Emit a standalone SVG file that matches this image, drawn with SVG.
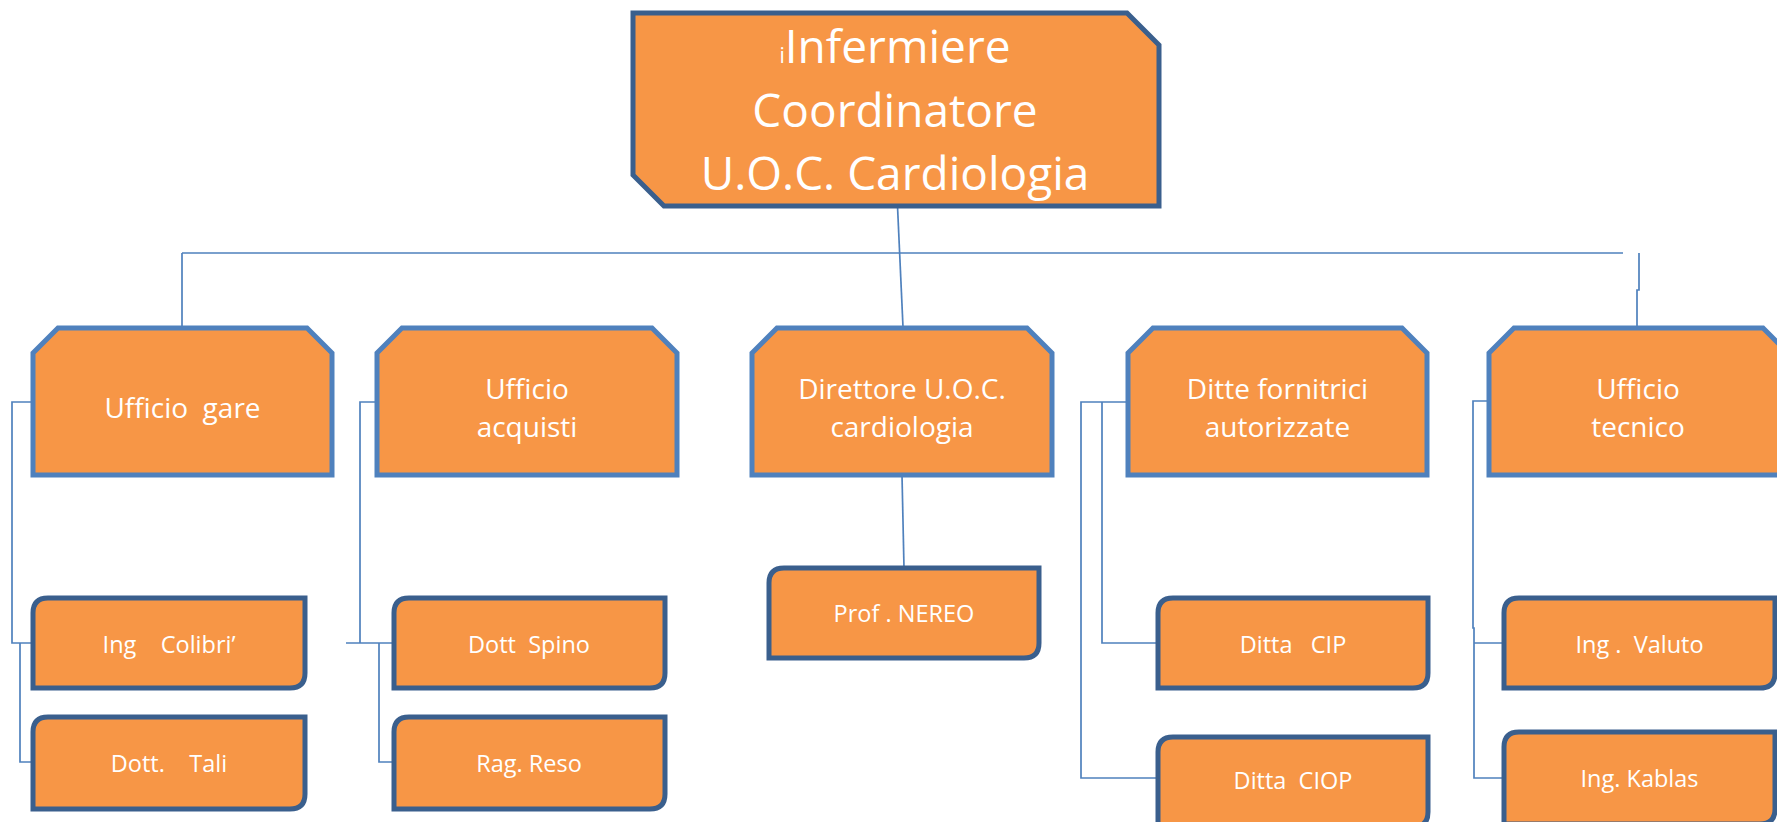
<svg xmlns="http://www.w3.org/2000/svg" width="1777" height="822" viewBox="0 0 1777 822">
<style>
.bg{fill:#ffffff}
.n1{fill:#F79646;stroke:#3A5F8D;stroke-width:5;stroke-linejoin:miter}
.n2{fill:#F79646;stroke:#4F81BD;stroke-width:5;stroke-linejoin:miter}
.n3{fill:#F79646;stroke:#3A5F8D;stroke-width:5}
.c{fill:none;stroke:#4F81BD;stroke-width:1.7}
text{font-family:"Open Sans","Noto Sans","Liberation Sans",sans-serif;fill:#ffffff;text-anchor:middle;white-space:pre}
.t1{font-size:46px}
.t2{font-size:28px}
.t3{font-size:23.5px}
</style>
<rect class="bg" x="0" y="0" width="1777" height="822"/>
<g id="connectors">
<path class="c" d="M897.5,206 L903,327"/>
<path class="c" d="M182,253 L1623,253 M182,253 L182,328"/>
<path class="c" d="M1639,253 L1639,290 L1637,290 L1637,327"/>
<path class="c" d="M902,475 L904,568"/>
<path class="c" d="M33,402 L12,402 L12,643 L33,643 M20,643 L20,762 L33,762"/>
<path class="c" d="M377,402 L360,402 L360,643 M346,643 L394,643 M379,643 L379,762 L394,762"/>
<path class="c" d="M1128,402 L1081,402 L1081,778 L1158,778 M1102,402 L1102,643 L1158,643"/>
<path class="c" d="M1489,401 L1473,401 L1473,628 L1474,628 L1474,778 L1504,778 M1474,643 L1504,643"/>
</g>
<g id="n-infermiere">
<path class="n1" d="M633,13 L1127,13 L1159,45 L1159,206 L664,206 L633,175 Z"/>
<text class="t1" x="895" y="63"><tspan font-size="21px">i</tspan>Infermiere</text>
<text class="t1" x="895" y="127">Coordinatore</text>
<text class="t1" x="895" y="190">U.O.C. Cardiologia</text>
</g>
<g id="n-gare">
<path class="n2" d="M58,328 L307,328 L332,353 L332,475 L33,475 L33,353 Z"/>
<text class="t2" x="182.5" y="418">Ufficio  gare</text>
</g>
<g id="n-acquisti">
<path class="n2" d="M402,328 L652,328 L677,353 L677,475 L377,475 L377,353 Z"/>
<text class="t2" x="527" y="399">Ufficio</text>
<text class="t2" x="527" y="437">acquisti</text>
</g>
<g id="n-direttore">
<path class="n2" d="M777,328 L1027,328 L1052,353 L1052,475 L752,475 L752,353 Z"/>
<text class="t2" x="902" y="399">Direttore U.O.C.</text>
<text class="t2" x="902" y="437">cardiologia</text>
</g>
<g id="n-ditte">
<path class="n2" d="M1153,328 L1402,328 L1427,353 L1427,475 L1128,475 L1128,353 Z"/>
<text class="t2" x="1277.5" y="399">Ditte fornitrici</text>
<text class="t2" x="1277.5" y="437">autorizzate</text>
</g>
<g id="n-tecnico">
<path class="n2" d="M1514,328 L1763,328 L1788,353 L1788,475 L1489,475 L1489,353 Z"/>
<text class="t2" x="1638" y="399">Ufficio</text>
<text class="t2" x="1638" y="437">tecnico</text>
</g>
<g id="n-colibri">
<path class="n3" d="M48,598 L305,598 L305,673 Q305,688 290,688 L33,688 L33,613 Q33,598 48,598 Z"/>
<text class="t3" x="169" y="653">Ing    Colibri’</text>
</g>
<g id="n-tali">
<path class="n3" d="M48,717 L305,717 L305,794 Q305,809 290,809 L33,809 L33,732 Q33,717 48,717 Z"/>
<text class="t3" x="169" y="772">Dott.    Tali</text>
</g>
<g id="n-spino">
<path class="n3" d="M409,598 L665,598 L665,673 Q665,688 650,688 L394,688 L394,613 Q394,598 409,598 Z"/>
<text class="t3" x="529" y="653">Dott  Spino</text>
</g>
<g id="n-reso">
<path class="n3" d="M409,717 L665,717 L665,794 Q665,809 650,809 L394,809 L394,732 Q394,717 409,717 Z"/>
<text class="t3" x="529" y="772">Rag. Reso</text>
</g>
<g id="n-nereo">
<path class="n3" d="M784,568 L1039,568 L1039,643 Q1039,658 1024,658 L769,658 L769,583 Q769,568 784,568 Z"/>
<text class="t3" x="904" y="622">Prof . NEREO</text>
</g>
<g id="n-cip">
<path class="n3" d="M1173,598 L1428,598 L1428,673 Q1428,688 1413,688 L1158,688 L1158,613 Q1158,598 1173,598 Z"/>
<text class="t3" x="1293" y="653">Ditta   CIP</text>
</g>
<g id="n-ciop">
<path class="n3" d="M1173,737 L1428,737 L1428,812 Q1428,827 1413,827 L1158,827 L1158,752 Q1158,737 1173,737 Z"/>
<text class="t3" x="1293" y="789">Ditta  CIOP</text>
</g>
<g id="n-valuto">
<path class="n3" d="M1519,598 L1775,598 L1775,673 Q1775,688 1760,688 L1504,688 L1504,613 Q1504,598 1519,598 Z"/>
<text class="t3" x="1639.5" y="653">Ing .  Valuto</text>
</g>
<g id="n-kablas">
<path class="n3" d="M1519,732 L1775,732 L1775,809 Q1775,824 1760,824 L1504,824 L1504,747 Q1504,732 1519,732 Z"/>
<text class="t3" x="1639.5" y="787">Ing. Kablas</text>
</g>
</svg>
